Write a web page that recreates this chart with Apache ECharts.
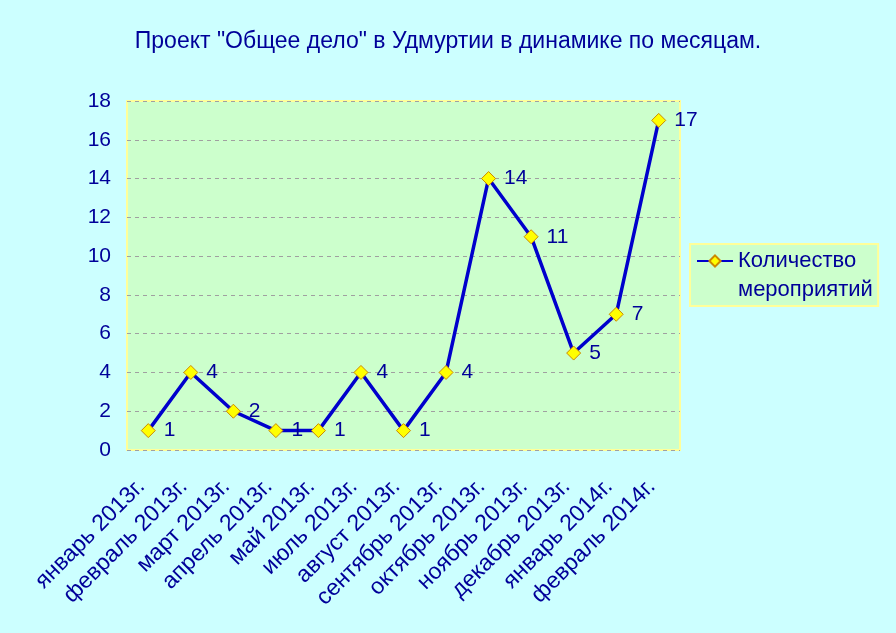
<!DOCTYPE html>
<html>
<head>
<meta charset="utf-8">
<script src="https://cdn.jsdelivr.net/npm/echarts@6/dist/echarts.min.js"></script>
<style>
  html, body { margin: 0; padding: 0; background: #ccffff; }
  #chart-box { width: 896px; height: 633px; }
</style>
</head>
<body>
<div id="chart-box"></div>
<script>
// данные с картинки
var months = ['январь 2013г.', 'февраль 2013г.', 'март 2013г.', 'апрель 2013г.', 'май 2013г.',
  'июль 2013г.', 'август 2013г.', 'сентябрь 2013г.', 'октябрь 2013г.', 'ноябрь 2013г.',
  'декабрь 2013г.', 'январь 2014г.', 'февраль 2014г.'];
var events = [1, 4, 2, 1, 1, 4, 1, 4, 14, 11, 5, 7, 17];
var seriesName = 'Количество мероприятий';

var textColor = '#000099';
var fontFam = 'Liberation Sans, Arial, sans-serif';
var myChart = echarts.init(document.getElementById('chart-box'));

var option = {
  backgroundColor: '#ccffff',
  textStyle: { fontFamily: fontFam },
  title: {
    text: 'Проект "Общее дело" в Удмуртии в динамике по месяцам.',
    left: 'center',
    top: 25,
    textStyle: { fontSize: 23, fontWeight: 'normal', color: textColor }
  },
  legend: {
    data: [seriesName],
    left: 690,
    top: 244,
    orient: 'vertical',
    padding: [6, 22, 34, 6],
    itemWidth: 36,
    itemHeight: 14,
    backgroundColor: '#ccffcc',
    borderColor: '#ffff99',
    borderWidth: 2,
    formatter: function () { return 'Количество'; },
    textStyle: { fontSize: 22, color: textColor }
  },
  // вторая строка легенды
  graphic: [{
    type: 'text',
    left: 738,
    top: 279,
    z: 100,
    style: { text: 'мероприятий', fontSize: 22, fill: textColor, fontFamily: fontFam }
  }],
  grid: {
    left: 127,
    right: 216,
    top: 101,
    bottom: 183,
    show: true,
    backgroundColor: '#ccffcc',
    borderColor: '#ffff99',
    borderWidth: 2
  },
  xAxis: {
    type: 'category',
    data: months,
    boundaryGap: true,
    axisLine: { show: false },
    axisTick: { show: false },
    axisLabel: {
      rotate: 45,
      fontSize: 23,
      color: textColor,
      margin: 26,
      padding: [0, 10, 0, 0],
      interval: 0
    }
  },
  yAxis: {
    type: 'value',
    min: 0,
    max: 18,
    interval: 2,
    axisLine: { show: false },
    axisTick: { show: false },
    axisLabel: { fontSize: 21, color: textColor, margin: 16 },
    splitLine: { lineStyle: { color: '#a0a0a0', type: [4, 4], width: 1 } }
  },
  series: [{
    name: seriesName,
    type: 'line',
    data: events,
    symbol: 'diamond',
    symbolSize: 14,
    lineStyle: { color: '#0000cc', width: 3.5 },
    itemStyle: { color: '#ffff00', borderColor: '#cc8800', borderWidth: 1 },
    label: {
      show: true,
      position: 'right',
      distance: 8,
      fontSize: 21,
      color: textColor
    }
  }]
};

myChart.setOption(option);
</script>
</body>
</html>
